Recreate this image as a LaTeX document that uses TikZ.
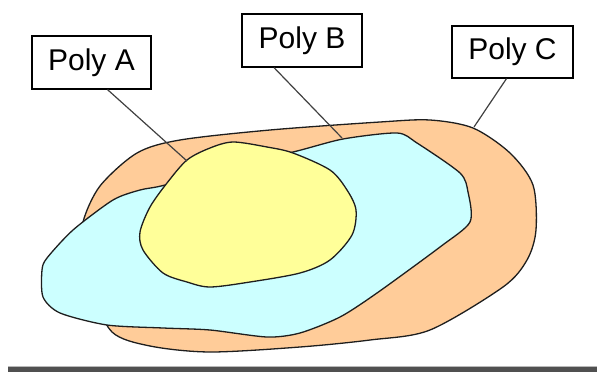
\documentclass[tikz,border=0pt]{standalone}
\usepackage{fontspec}
\setmainfont{Liberation Sans}
\usepackage{xcolor}
\usepackage{tikz}
\usetikzlibrary{positioning}
\definecolor{polyA}{HTML}{FFFF99}
\definecolor{polyB}{HTML}{CCFFFF}
\definecolor{polyC}{HTML}{FFCC99}
\definecolor{edge}{HTML}{1E1E1E}
\definecolor{leader}{HTML}{404040}
\definecolor{bar}{HTML}{505050}

\tikzset{
  region/.style={draw=edge, line width=1.3pt, line join=round},
  tag/.style={draw=black, line width=1.2pt, fill=white, inner sep=0pt,
              minimum width=119pt, minimum height=53pt,
              font=\fontsize{30}{32}\selectfont},
  leaderline/.style={draw=leader, line width=1.2pt}
}

\begin{document}
\begin{tikzpicture}[x=1pt, y=-1pt]
      \useasboundingbox (0,0) rectangle (597,372);
      % Poly C
      \path[region, fill=polyC] plot[smooth cycle, tension=0.5] coordinates {
        (83,222) (100,186) (137,153) (180,140) (270,130) (380,122) (430,120)
        (473,128) (510,153) (533,185) (536,230) (527,260) (503,287) (430,330)
        (370,340) (300,347) (210,352) (150,346) (112,332) (92,290) (84,250)};
      % Poly B
      \path[region, fill=polyB] plot[smooth cycle, tension=0.45] coordinates {
        (73,230) (113,200) (140,190) (165,185) (230,165) (293,152) (343,139)
        (397,133) (417,143) (460,173) (468,192) (470,222) (440,247) (377,293)
        (340,317) (300,333) (267,337) (210,330) (163,328) (107,325) (60,313)
        (43,297) (42,270) (47,258)};
      % Poly A
      \path[region, fill=polyA] plot[smooth cycle, tension=0.5] coordinates {
        (140,232) (150,207) (167,183) (187,160) (210,148) (233,142) (267,147)
        (293,153) (330,170) (347,190) (356,210) (352,235) (330,260) (300,273)
        (250,282) (210,287) (187,282) (163,273) (143,250)};
      % labels
      \node[tag] (tagA) at (91.5,62.5) {Poly A};
      \node[tag, minimum width=120pt] (tagB) at (302,40.5) {Poly B};
      \node[tag, minimum width=121pt, minimum height=52pt] (tagC) at (512.5,52) {Poly C};
      \coordinate (onA) at (187,161);
      \coordinate (onB) at (342,138);
      \coordinate (onC) at (474,127);
      \draw[leaderline] ([xshift=16pt]tagA.south) -- (onA);
      \draw[leaderline] ([xshift=-28pt]tagB.south) -- (onB);
      \draw[leaderline] ([xshift=-6pt]tagC.south) -- (onC);
      % bottom rule
      \fill[gray!55] (8,366) rectangle (597,367.2);
      \fill[bar] (8,367.2) rectangle (597,372);
    \end{tikzpicture}
\end{document}
